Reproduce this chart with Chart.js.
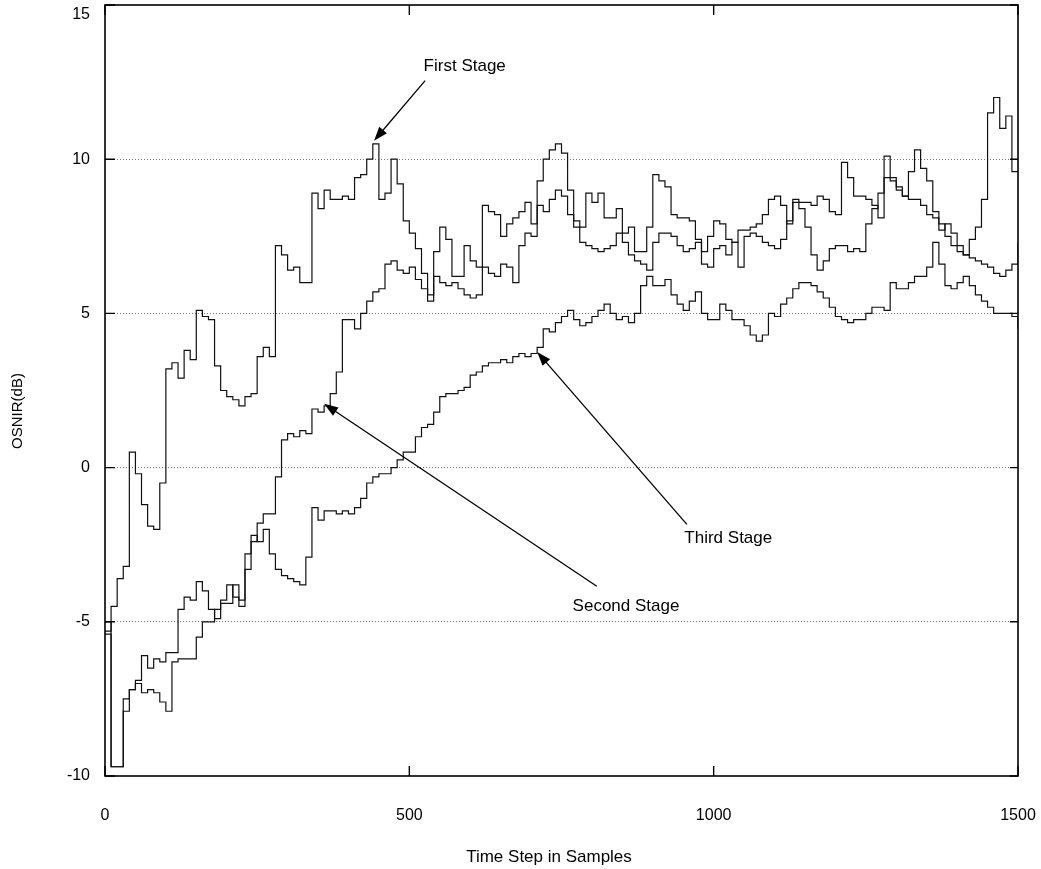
<!DOCTYPE html>
<html>
<head>
<meta charset="utf-8">
<title>OSNIR vs time step</title>
<script src="https://cdn.jsdelivr.net/npm/chart.js@4.4.0/dist/chart.umd.min.js"></script>
<style>
  html, body { margin: 0; padding: 0; background: #fff; }
  canvas { display: block; }
</style>
</head>
<body>
<canvas id="osnirChart" width="1041" height="869"></canvas>
<script>
// sample index of every step (one value per 10 samples)
const sampleSteps = [
  0, 10, 20, 30, 40, 50, 60, 70, 80, 90,
  100, 110, 120, 130, 140, 150, 160, 170, 180, 190,
  200, 210, 220, 230, 240, 250, 260, 270, 280, 290,
  300, 310, 320, 330, 340, 350, 360, 370, 380, 390,
  400, 410, 420, 430, 440, 450, 460, 470, 480, 490,
  500, 510, 520, 530, 540, 550, 560, 570, 580, 590,
  600, 610, 620, 630, 640, 650, 660, 670, 680, 690,
  700, 710, 720, 730, 740, 750, 760, 770, 780, 790,
  800, 810, 820, 830, 840, 850, 860, 870, 880, 890,
  900, 910, 920, 930, 940, 950, 960, 970, 980, 990,
  1000, 1010, 1020, 1030, 1040, 1050, 1060, 1070, 1080, 1090,
  1100, 1110, 1120, 1130, 1140, 1150, 1160, 1170, 1180, 1190,
  1200, 1210, 1220, 1230, 1240, 1250, 1260, 1270, 1280, 1290,
  1300, 1310, 1320, 1330, 1340, 1350, 1360, 1370, 1380, 1390,
  1400, 1410, 1420, 1430, 1440, 1450, 1460, 1470, 1480, 1490,
  1500
];

// OSNIR (dB)
const firstStage = [
  -5.3, -4.5, -3.6, -3.2, 0.5, -0.2, -1.2, -1.9, -2.0, -0.5,
  3.2, 3.4, 2.9, 3.8, 3.5, 5.1, 4.9, 4.8, 3.3, 2.5,
  2.3, 2.2, 2.0, 2.3, 2.4, 3.6, 3.9, 3.6, 7.2, 6.9,
  6.4, 6.5, 6.0, 6.0, 8.9, 8.4, 9.0, 8.7, 8.7, 8.8,
  8.7, 9.4, 9.5, 10.0, 10.5, 8.7, 8.9, 10.0, 9.2, 8.0,
  7.6, 7.1, 6.3, 5.4, 7.0, 7.8, 7.4, 6.2, 6.2, 7.2,
  6.7, 6.5, 8.5, 8.3, 8.2, 7.5, 7.9, 8.1, 8.3, 8.6,
  7.9, 9.3, 10.0, 10.3, 10.5, 10.2, 9.0, 7.8, 7.3, 7.2,
  7.1, 7.0, 7.1, 7.2, 7.6, 7.3, 6.9, 6.7, 6.6, 6.4,
  7.3, 7.6, 7.6, 7.5, 7.2, 7.0, 7.1, 7.3, 6.6, 6.5,
  7.1, 7.2, 6.9, 7.3, 6.5, 7.5, 7.6, 7.5, 7.3, 7.2,
  7.1, 7.4, 8.0, 8.6, 8.4, 7.8, 6.9, 6.4, 6.7, 7.1,
  7.2, 7.2, 7.0, 7.1, 7.0, 7.9, 8.4, 8.9, 9.4, 9.3,
  9.0, 8.8, 8.7, 8.7, 8.5, 8.2, 8.1, 7.7, 7.9, 7.6,
  7.2, 6.9, 6.8, 6.7, 6.6, 6.5, 6.3, 6.2, 6.4, 6.6,
  7.3
];

const secondStage = [
  -5.4, -9.7, -9.7, -7.5, -7.2, -6.9, -6.1, -6.5, -6.2, -6.3,
  -6.0, -6.0, -4.6, -4.2, -4.3, -3.7, -4.0, -4.6, -4.9, -4.4,
  -4.4, -3.8, -4.3, -3.3, -2.4, -1.8, -1.5, -1.5, -0.3, 0.9,
  1.1, 1.0, 1.2, 1.1, 1.9, 1.8, 2.0, 2.4, 3.1, 4.8,
  4.8, 4.5, 5.0, 5.4, 5.7, 5.8, 6.6, 6.7, 6.4, 6.3,
  6.5, 6.1, 5.8, 5.6, 6.2, 6.0, 5.9, 6.0, 5.8, 5.6,
  5.5, 5.6, 6.5, 6.3, 6.2, 6.6, 6.5, 6.0, 7.2, 7.6,
  7.5, 8.5, 8.3, 8.7, 9.0, 8.8, 8.2, 8.0, 7.8, 8.9,
  8.6, 8.9, 8.1, 8.1, 8.4, 7.6, 7.8, 7.0, 7.0, 7.8,
  9.5, 9.3, 9.1, 8.2, 8.1, 8.1, 8.0, 7.4, 7.0, 7.5,
  8.0, 7.9, 7.4, 7.3, 7.7, 7.7, 7.8, 7.9, 8.2, 8.7,
  8.8, 8.5, 7.9, 8.7, 8.6, 8.6, 8.5, 8.8, 8.7, 8.3,
  8.2, 9.9, 9.4, 8.8, 8.8, 8.7, 8.5, 8.1, 10.1, 9.4,
  9.1, 8.8, 9.6, 10.3, 9.7, 9.3, 8.3, 7.9, 7.5, 7.2,
  7.0, 6.9, 7.4, 7.8, 8.7, 11.5, 12.0, 11.0, 11.4, 9.6,
  9.6
];

const thirdStage = [
  -5.0, -9.7, -9.7, -7.9, -7.2, -7.0, -7.3, -7.2, -7.3, -7.6,
  -7.9, -6.3, -6.2, -6.2, -6.2, -5.5, -5.0, -5.0, -4.6, -4.3,
  -3.8, -4.2, -4.5, -2.8, -2.2, -2.4, -2.0, -2.8, -3.3, -3.5,
  -3.6, -3.7, -3.8, -2.9, -1.3, -1.7, -1.4, -1.4, -1.5, -1.4,
  -1.5, -1.3, -1.0, -0.5, -0.3, -0.2, -0.2, 0.0, 0.25, 0.5,
  0.5, 1.0, 1.3, 1.4, 1.8, 2.3, 2.4, 2.4, 2.5, 2.6,
  3.0, 3.1, 3.3, 3.4, 3.4, 3.5, 3.4, 3.6, 3.7, 3.6,
  3.7, 3.9, 4.5, 4.4, 4.7, 4.9, 5.1, 4.8, 4.6, 4.7,
  4.9, 5.1, 5.3, 5.0, 4.8, 4.9, 4.7, 5.0, 5.9, 6.2,
  5.9, 5.9, 6.1, 5.6, 5.3, 5.1, 5.4, 5.7, 5.0, 4.8,
  4.8, 5.3, 5.1, 4.8, 4.8, 4.6, 4.3, 4.1, 4.3, 5.0,
  4.9, 5.3, 5.5, 5.8, 6.0, 6.0, 5.9, 5.7, 5.5, 5.2,
  4.9, 4.8, 4.7, 4.8, 4.8, 5.0, 5.2, 5.2, 5.1, 6.0,
  5.8, 5.8, 6.0, 6.2, 6.2, 6.5, 7.3, 6.6, 5.9, 5.8,
  6.0, 6.2, 5.9, 5.6, 5.4, 5.2, 5.0, 5.0, 5.0, 4.9,
  4.5
];

const xTicks = [0, 500, 1000, 1500];
const yTicks = [-10, -5, 0, 5, 10, 15];

const xTitle = 'Time Step in Samples';
const yTitle = 'OSNIR(dB)';

// call-outs, in data units (sample, dB)
const stageLabels = ['First Stage', 'Second Stage', 'Third Stage'];
const labelAt = [[591, 13.0], [856, -4.5], [1024, -2.3]];
const arrowFrom = [[526, 12.55], [808, -3.85], [956, -1.84]];
const arrowTo = [[442, 10.6], [360, 2.07], [710, 3.75]];

const FONT = '"Liberation Sans", Arial, Helvetica, sans-serif';
Chart.defaults.font.family = FONT;
Chart.defaults.color = '#000';

function toPoints(values) {
  return sampleSteps.map((s, i) => ({ x: s, y: values[i] }));
}

function stageSet(label, values) {
  return {
    label: label,
    data: toPoints(values),
    borderColor: '#111',
    borderWidth: 1.2,
    pointRadius: 0,
    stepped: true,
    fill: false
  };
}

function drawArrow(ctx, x1, y1, x2, y2) {
  const ang = Math.atan2(y2 - y1, x2 - x1);
  const c = Math.cos(ang), s = Math.sin(ang);
  const len = 14, half = 5;
  ctx.beginPath();
  ctx.moveTo(x1, y1);
  ctx.lineTo(x2 - c * len * 0.7, y2 - s * len * 0.7);
  ctx.stroke();
  ctx.beginPath();
  ctx.moveTo(x2, y2);
  ctx.lineTo(x2 - c * len + s * half, y2 - s * len - c * half);
  ctx.lineTo(x2 - c * len - s * half, y2 - s * len + c * half);
  ctx.closePath();
  ctx.fill();
}

// frame, inward ticks, call-outs and axis titles
const notesPlugin = {
  id: 'frameAndNotes',
  afterDatasetsDraw(chart) {
    const { ctx, chartArea: a, scales: { x, y } } = chart;
    ctx.save();
    ctx.strokeStyle = '#000';
    ctx.fillStyle = '#000';

    ctx.lineWidth = 1.6;
    ctx.strokeRect(a.left, a.top, a.right - a.left, a.bottom - a.top);

    ctx.lineWidth = 1.4;
    ctx.beginPath();
    yTicks.forEach(v => {
      const py = y.getPixelForValue(v);
      ctx.moveTo(a.left, py); ctx.lineTo(a.left + 10, py);
      ctx.moveTo(a.right, py); ctx.lineTo(a.right - 8, py);
    });
    xTicks.forEach(v => {
      const px = x.getPixelForValue(v);
      ctx.moveTo(px, a.bottom); ctx.lineTo(px, a.bottom - 10);
      ctx.moveTo(px, a.top); ctx.lineTo(px, a.top + 10);
    });
    ctx.stroke();

    ctx.lineWidth = 1.3;
    stageLabels.forEach((txt, i) => {
      drawArrow(ctx,
        x.getPixelForValue(arrowFrom[i][0]), y.getPixelForValue(arrowFrom[i][1]),
        x.getPixelForValue(arrowTo[i][0]), y.getPixelForValue(arrowTo[i][1]));
      ctx.font = '17px ' + FONT;
      ctx.textAlign = 'center';
      ctx.textBaseline = 'middle';
      ctx.fillText(txt, x.getPixelForValue(labelAt[i][0]), y.getPixelForValue(labelAt[i][1]));
    });

    // axis titles (the original sits them a little off centre)
    ctx.font = '17px ' + FONT;
    ctx.fillText(xTitle, 549, 857);
    ctx.translate(18, 411);
    ctx.rotate(-Math.PI / 2);
    ctx.font = '15px ' + FONT;
    ctx.fillText(yTitle, 0, 0);
    ctx.restore();
  }
};

new Chart(document.getElementById('osnirChart').getContext('2d'), {
  type: 'line',
  data: {
    datasets: [
      stageSet('First Stage', firstStage),
      stageSet('Second Stage', secondStage),
      stageSet('Third Stage', thirdStage)
    ]
  },
  options: {
    responsive: false,
    animation: false,
    layout: { padding: { left: 0, right: 23, top: 5, bottom: 0 } },
    plugins: { legend: { display: false }, tooltip: { enabled: false } },
    scales: {
      x: {
        type: 'linear',
        min: 0,
        max: 1500,
        afterBuildTicks: (axis) => { axis.ticks = xTicks.map(v => ({ value: v })); },
        afterFit: (axis) => { axis.height = 93; axis.paddingLeft = 0; axis.paddingRight = 0; },
        grid: { display: false, drawTicks: false },
        border: { display: false },
        ticks: { padding: 30, font: { size: 16 }, color: '#000', callback: (v) => String(v) }
      },
      y: {
        type: 'linear',
        min: -10,
        max: 15,
        afterBuildTicks: (axis) => { axis.ticks = yTicks.map(v => ({ value: v })); },
        afterFit: (axis) => { axis.width = 105; axis.paddingTop = 0; axis.paddingBottom = 0; },
        grid: {
          drawTicks: false,
          lineWidth: 1,
          color: (c) => (c.tick && (c.tick.value === 15 || c.tick.value === -10)) ? 'rgba(0,0,0,0)' : '#777'
        },
        border: { display: false, dash: [1, 2] },
        ticks: {
          padding: 15,
          font: { size: 16 },
          color: '#000',
          // the top label sits just under the frame in the original
          callback: (v) => (v === 15 ? ['', '15'] : String(v))
        }
      }
    }
  },
  plugins: [notesPlugin]
});
</script>
</body>
</html>
